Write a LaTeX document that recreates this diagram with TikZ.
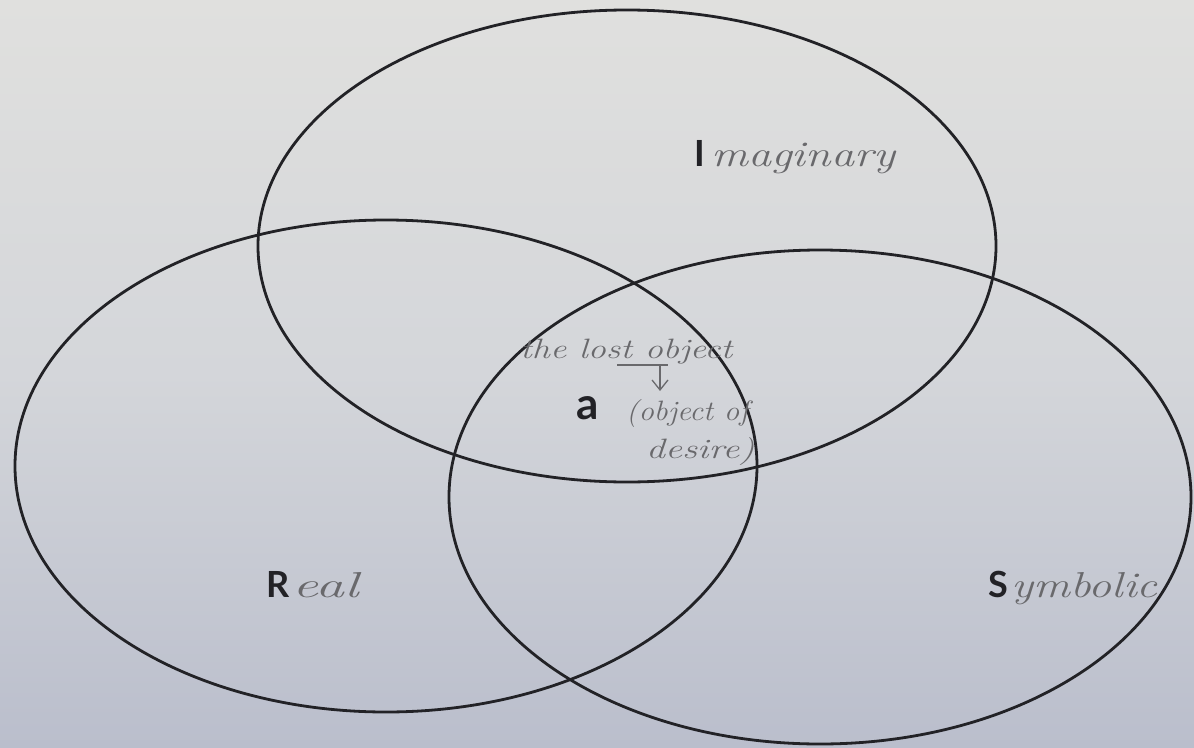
\documentclass[tikz,border=0pt]{standalone}
\usepackage{fontspec}
\newfontfamily\labfont{Lato}
\usetikzlibrary{shapes.geometric,arrows.meta}
\definecolor{paper}{RGB}{224,224,222}
\definecolor{papermid}{RGB}{212,214,218}
\definecolor{paperlow}{RGB}{186,190,204}
\definecolor{ink}{RGB}{34,34,38}
\definecolor{pencil}{RGB}{105,105,108}
\tikzset{
  ring/.style={ellipse, draw=ink, line width=2.8pt, inner sep=0pt},
  bold/.style={font=\labfont\bfseries\fontsize{36}{36}\selectfont, text=ink, inner sep=0pt, anchor=base west},
  hand/.style={font=\itshape\fontsize{36}{36}\selectfont, text=pencil, inner sep=0pt, anchor=base west},
  note/.style={font=\itshape\fontsize{28}{28}\selectfont, text=pencil, inner sep=0pt, anchor=base west}
}
\begin{document}
\begin{tikzpicture}[x=1pt,y=-1pt]
\shade[top color=paper, bottom color=paperlow, middle color=papermid] (0,0) rectangle (1194,747);
\useasboundingbox (0,0) rectangle (1194,747);
% rings
\node[ring, minimum width=738pt, minimum height=472pt] (imag) at (627,246) {};
\node[ring, minimum width=742pt, minimum height=492pt] (real) at (386,466) {};
\node[ring, minimum width=742pt, minimum height=494pt] (symb) at (820,497) {};
% labels
\node[bold] (iI) at (694,166) {I};
\node[hand] (imaginary) at ([xshift=6pt]iI.base east) {\scalebox{1.28}[1]{maginary}};
\node[bold] (rR) at (266,597) {R};
\node[hand] (real-t) at ([xshift=3pt]rR.base east) {\scalebox{1.6}[1]{eal}};
\node[bold] (sS) at (988,597) {S};
\node[hand] (symb-t) at ([xshift=3pt]sS.base east) {\scalebox{1.28}[1]{ymbolic}};
\node[bold, font=\labfont\bfseries\fontsize{44}{44}\selectfont] (a) at (576,419) {a};
\node[note] (lost) at (520,358) {\scalebox{1.29}[1]{the lost object}};
\node[note] (objof) at (626,420) {\scalebox{1.1}[1]{(object of}};
\node[note] (desire) at (646,458) {\scalebox{1.35}[1]{desire)}};
\coordinate (barl) at (617,365);
\coordinate (barr) at (668,365);
\coordinate (arrtop) at (660,365);
\coordinate (arrbot) at (660,391);
\draw[pencil, line width=1.3pt] (barl) -- (barr);
\draw[pencil, line width=1.3pt, -{Straight Barb[length=10pt,width=16pt]}] (arrtop) -- (arrbot);
\end{tikzpicture}
\end{document}
